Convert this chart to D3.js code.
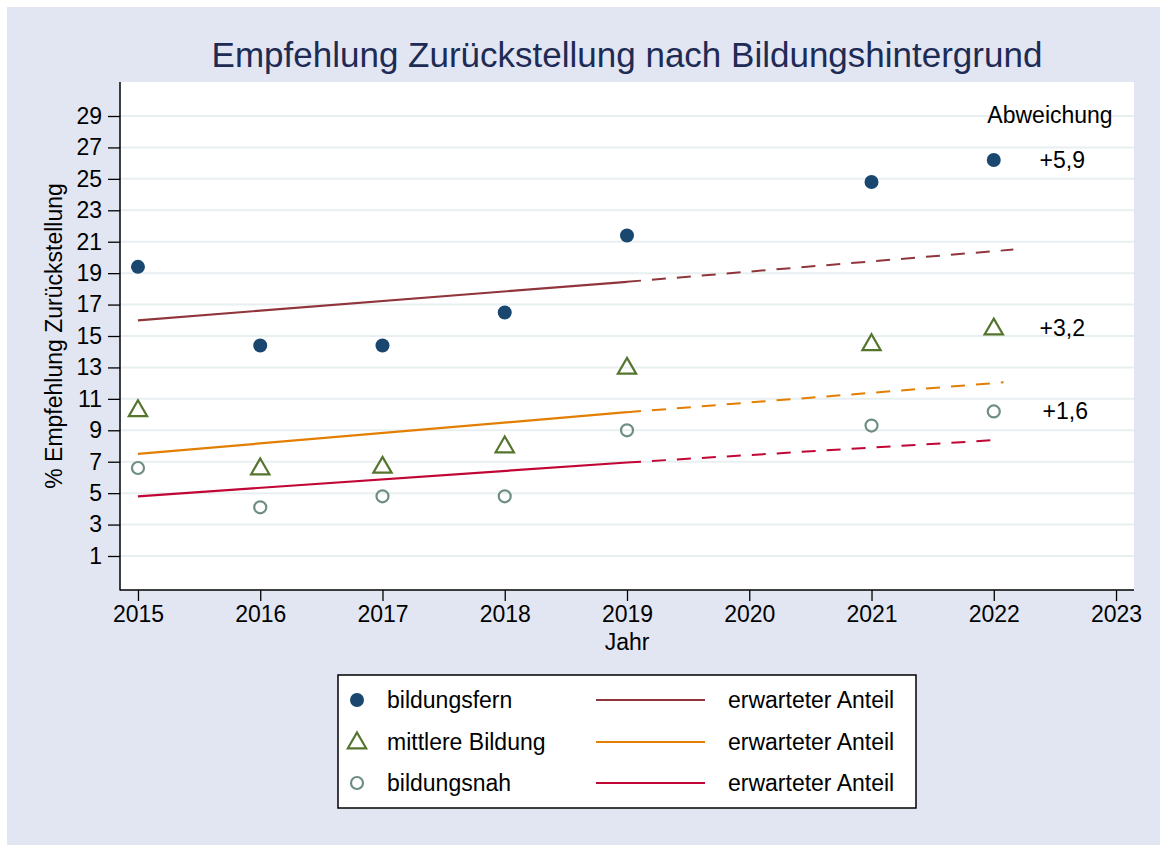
<!DOCTYPE html>
<html>
<head>
<meta charset="utf-8">
<script src="https://cdn.jsdelivr.net/npm/d3@7"></script>
<style>
  html, body { margin: 0; padding: 0; background: #ffffff; }
  svg { display: block; font-family: "Liberation Sans", Arial, sans-serif; }
</style>
</head>
<body>
<svg id="chart" width="1160" height="845"></svg>
<script>
// Observed years and shares (%) per education group
const years = [2015, 2016, 2017, 2018, 2019, 2021, 2022];
const bildungsfern = [19.4, 14.4, 14.4, 16.5, 21.4, 24.8, 26.2];
const mittlereBildung = [10.3, 6.6, 6.7, 8.0, 13.0, 14.5, 15.5];
const bildungsnah = [6.6, 4.1, 4.8, 4.8, 9.0, 9.3, 10.2];

// Expected share: fitted 2015-2019, extrapolated (dashed) beyond 2019
const trendFernYears = [2015, 2019, 2022.16];
const trendFern = [16.0, 18.45, 20.5];
const trendMittelYears = [2015, 2019, 2022.08];
const trendMittel = [7.5, 10.15, 12.05];
const trendNahYears = [2015, 2019, 2022.06];
const trendNah = [4.8, 6.95, 8.4];

// Deviation labels shown next to the 2022 values
const deviationLabels = ["+5,9", "+3,2", "+1,6"];
const deviationValues = [26.2, 15.5, 10.2];

const xTicks = [2015, 2016, 2017, 2018, 2019, 2020, 2021, 2022, 2023];
const yTicks = [1, 3, 5, 7, 9, 11, 13, 15, 17, 19, 21, 23, 25, 27, 29];

const legendLabels = ["bildungsfern", "mittlere Bildung", "bildungsnah"];
const legendLineLabel = "erwarteter Anteil";

const C = {
  navy: "#1a476f", maroon: "#90353b", green: "#55752f",
  orange: "#e37e00", teal: "#6e8e84", cranberry: "#c10534",
  bg: "#e2e6f2", grid: "#e8eff1"
};

const svg = d3.select("#chart");
const W = 1160, H = 845;
const plot = { left: 120, right: 1134, top: 82, bottom: 590 };

// Outer background
svg.append("rect").attr("x", 7).attr("y", 7).attr("width", W - 7).attr("height", H - 7).attr("fill", C.bg);
svg.append("rect").attr("x", plot.left).attr("y", plot.top)
  .attr("width", plot.right - plot.left).attr("height", plot.bottom - plot.top).attr("fill", "#fff");

const x = d3.scaleLinear().domain([2014.853, 2023.147]).range([plot.left, plot.right]);
const y = d3.scaleLinear().domain([-1.164, 31.164]).range([plot.bottom, plot.top]);

// Horizontal gridlines
svg.append("g").selectAll("line").data(yTicks).join("line")
  .attr("x1", plot.left).attr("x2", plot.right)
  .attr("y1", d => y(d)).attr("y2", d => y(d))
  .attr("stroke", C.grid).attr("stroke-width", 2);

// Axes
const yAxis = svg.append("g").attr("transform", `translate(${plot.left},0)`)
  .call(d3.axisLeft(y).tickValues(yTicks).tickSize(12).tickPadding(6).tickFormat(d3.format("d")));
const xAxis = svg.append("g").attr("transform", `translate(0,${plot.bottom})`)
  .call(d3.axisBottom(x).tickValues(xTicks).tickSize(11).tickPadding(5).tickFormat(d3.format("d")));
[yAxis, xAxis].forEach(a => {
  a.select(".domain").remove();
  a.selectAll(".tick line").attr("stroke", "#000").attr("stroke-width", 1.3);
  a.selectAll(".tick text").attr("fill", "#000").style("font-size", "23px")
    .style("font-family", "'Liberation Sans', Arial, sans-serif");
});
svg.append("line").attr("x1", plot.left).attr("x2", plot.left).attr("y1", plot.top).attr("y2", plot.bottom + 0.5)
  .attr("stroke", "#000").attr("stroke-width", 1.5);
svg.append("line").attr("x1", plot.left).attr("x2", plot.right).attr("y1", plot.bottom).attr("y2", plot.bottom)
  .attr("stroke", "#000").attr("stroke-width", 1.5);

// Axis titles
svg.append("text").attr("x", (plot.left + plot.right) / 2).attr("y", 650)
  .attr("text-anchor", "middle").style("font-size", "23px").text("Jahr");
svg.append("text").attr("transform", `translate(62,${(plot.top + plot.bottom) / 2}) rotate(-90)`)
  .attr("text-anchor", "middle").style("font-size", "23px").text("% Empfehlung Zurückstellung");

// Chart title
svg.append("text").attr("x", (plot.left + plot.right) / 2).attr("y", 67)
  .attr("text-anchor", "middle").attr("fill", "#1e2b55").style("font-size", "35px")
  .text("Empfehlung Zurückstellung nach Bildungshintergrund");

// Expected-share lines: solid up to 2019, dashed afterwards
const trends = [
  { yrs: trendFernYears, vals: trendFern, color: C.maroon },
  { yrs: trendMittelYears, vals: trendMittel, color: C.orange },
  { yrs: trendNahYears, vals: trendNah, color: C.cranberry }
];
const line = d3.line().x(d => x(d[0])).y(d => y(d[1]));
trends.forEach(t => {
  const pts = t.yrs.map((yr, i) => [yr, t.vals[i]]);
  svg.append("path").attr("d", line(pts.slice(0, 2))).attr("fill", "none")
    .attr("stroke", t.color).attr("stroke-width", 2.2);
  svg.append("path").attr("d", line(pts.slice(1))).attr("fill", "none")
    .attr("stroke", t.color).attr("stroke-width", 2).attr("stroke-dasharray", "14,11");
});

// Markers
const tri = d3.symbol().type(d3.symbolTriangle).size(145);
function circleFilled(g, cx, cy, r = 7) {
  g.append("circle").attr("cx", cx).attr("cy", cy).attr("r", r).attr("fill", C.navy);
}
function triangleOpen(g, cx, cy) {
  g.append("path").attr("d", tri()).attr("transform", `translate(${cx},${cy + 1})`)
    .attr("fill", "none").attr("stroke", C.green).attr("stroke-width", 2.2);
}
function circleOpen(g, cx, cy) {
  g.append("circle").attr("cx", cx).attr("cy", cy).attr("r", 6).attr("fill", "none")
    .attr("stroke", C.teal).attr("stroke-width", 2.2);
}
const markerFns = [circleFilled, triangleOpen, circleOpen];
const seriesVals = [bildungsfern, mittlereBildung, bildungsnah];
const mg = svg.append("g");
seriesVals.forEach((vals, s) => {
  vals.forEach((v, i) => markerFns[s](mg, x(years[i]), y(v)));
});

// Deviation annotations
svg.append("text").attr("x", x(2022.46)).attr("y", y(29.05)).attr("dy", "0.35em")
  .attr("text-anchor", "middle").style("font-size", "23px").text("Abweichung");
deviationLabels.forEach((lab, i) => {
  svg.append("text").attr("x", x(2022.56) + (i === 2 ? 3 : 0)).attr("y", y(deviationValues[i])).attr("dy", "0.35em")
    .attr("text-anchor", "middle").style("font-size", "23px").text(lab);
});

// Legend
const lg = svg.append("g");
lg.append("rect").attr("x", 338).attr("y", 675).attr("width", 578).attr("height", 133)
  .attr("fill", "#fff").attr("stroke", "#000").attr("stroke-width", 1.5);
const rowY = [700, 742, 783];
legendLabels.forEach((lab, i) => {
  markerFns[i](lg, 357, rowY[i]);
  lg.append("text").attr("x", 387).attr("y", rowY[i]).attr("dy", "0.35em")
    .style("font-size", "23px").text(lab);
  lg.append("line").attr("x1", 596).attr("x2", 705).attr("y1", rowY[i]).attr("y2", rowY[i])
    .attr("stroke", trends[i].color).attr("stroke-width", 2.2);
  lg.append("text").attr("x", 728).attr("y", rowY[i]).attr("dy", "0.35em")
    .style("font-size", "23px").text(legendLineLabel);
});
</script>
</body>
</html>
